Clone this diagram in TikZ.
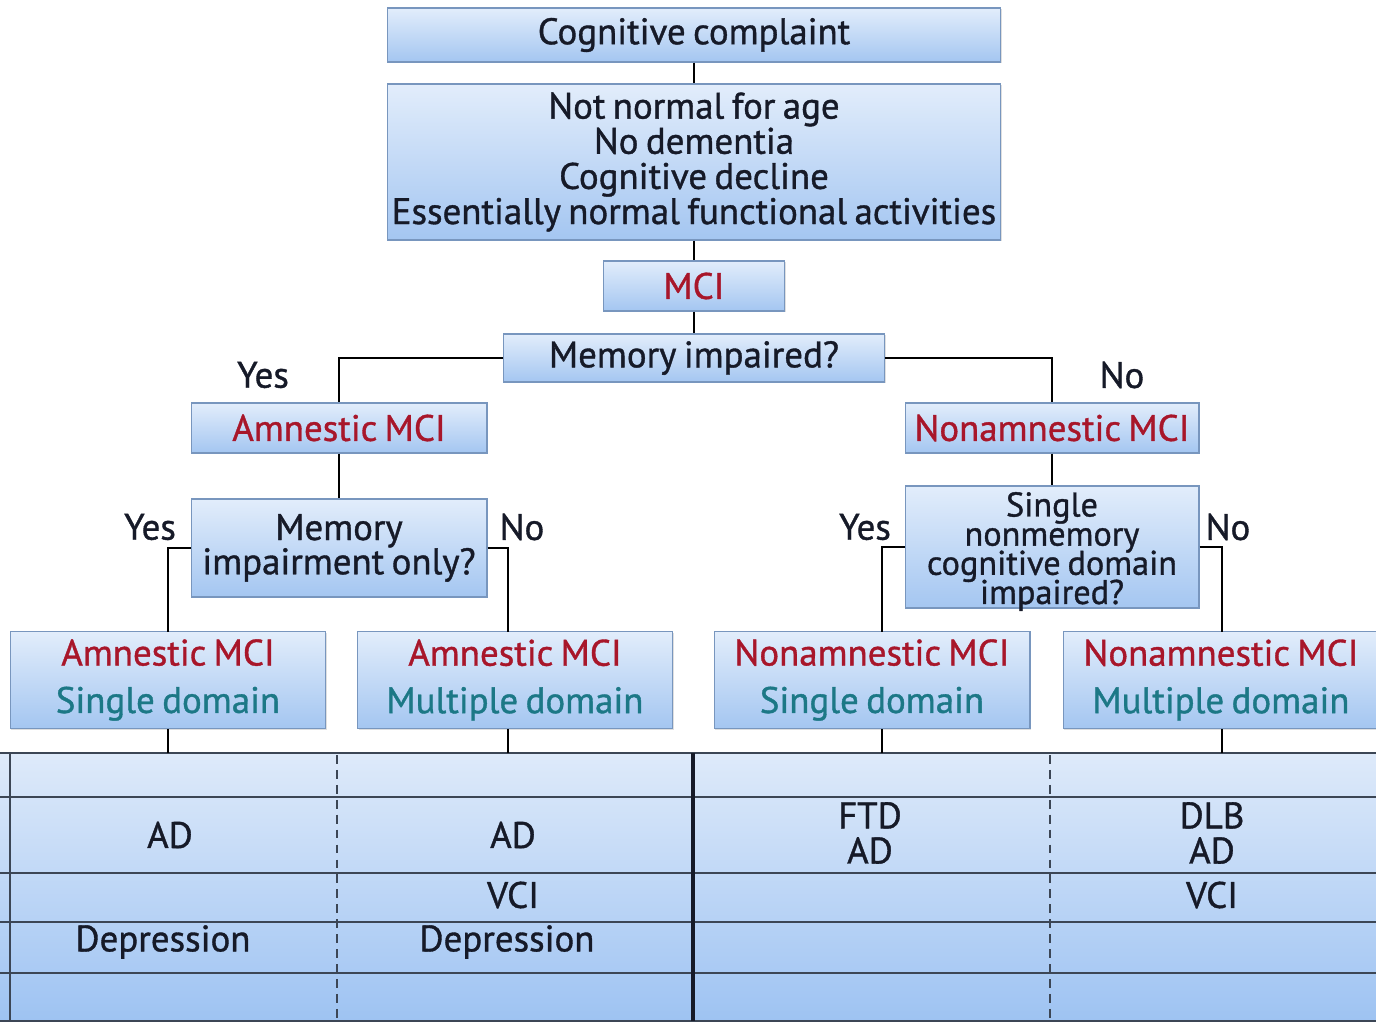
\documentclass[tikz,border=0pt]{standalone}
\usepackage{fontspec}
\setmainfont{PT Sans}[WordSpace=0.75, FakeBold=1]
\usetikzlibrary{positioning, shadows}

\definecolor{boxtop}{RGB}{226,237,251}
\definecolor{boxbot}{RGB}{164,198,241}
\definecolor{boxedge}{RGB}{120,150,190}
\definecolor{tabtop}{RGB}{222,234,250}
\definecolor{tabbot}{RGB}{158,195,242}
\definecolor{ink}{RGB}{22,26,40}
\definecolor{mcired}{RGB}{168,22,42}
\definecolor{domteal}{RGB}{28,120,134}
\definecolor{rulegrey}{RGB}{60,70,85}

\newcommand{\mcifont}{\fontsize{21}{20}\selectfont}

\tikzset{
  box/.style={draw=boxedge, line width=0.6pt, top color=boxtop, bottom color=boxbot,
    align=center, inner sep=0pt, text=ink, font=\mcifont,
    drop shadow={shadow xshift=0.6pt, shadow yshift=-0.8pt, opacity=0.25}},
  link/.style={draw=black, line width=1.4pt},
  answer/.style={text=ink, font=\mcifont},
  cell/.style={text=ink, font=\mcifont, align=center},
  rule/.style={draw=rulegrey, line width=1pt}
}

\begin{document}
\begin{tikzpicture}[x=0.02cm, y=-0.02cm]
\useasboundingbox (0,0) rectangle (1376,1030);

% table at the bottom
\fill[top color=tabtop, bottom color=tabbot] (0,753) rectangle (1376,1021);
\coordinate (tabtop) at (0,753);
\foreach \y in {753,797,873,922,973,1021}
  \draw[rule] (0,\y) -- (1376,\y);
\draw[rule] (10,753) -- (10,1021);
\draw[rule, dashed, dash pattern=on 5pt off 3.5pt, line width=1.2pt] (337,755) -- (337,1019);
\draw[rule, dashed, dash pattern=on 5pt off 3.5pt, line width=1.2pt] (1050,755) -- (1050,1019);
\draw[draw=ink, line width=2pt] (693,753) -- (693,1021);

% decision tree
\node[box, minimum width=12.28cm, minimum height=1.08cm] (cc) at (694,35) {Cognitive complaint};
\node[box, minimum width=12.28cm, minimum height=3.12cm] (crit) at (694,162)
  {Not normal for age\\No dementia\\Cognitive decline\\Essentially normal functional activities};
\node[box, minimum width=3.62cm, minimum height=1cm, text=mcired] (mci) at (694,286) {MCI};
\node[box, minimum width=7.62cm, minimum height=0.96cm] (memq) at (694,358) {Memory impaired?};
\node[box, minimum width=5.92cm, minimum height=1.96cm, font=\fontsize{21}{19.5}\selectfont] (onlyq) at (339,548)
  {Memory\\impairment only?};
\node[box, minimum width=5.92cm, minimum height=1cm, text=mcired] (amci) at (339,428) {Amnestic MCI};
\node[box, minimum width=5.88cm, minimum height=1cm, text=mcired] (namci) at (1052,428) {Nonamnestic MCI};
\node[box, minimum width=5.88cm, text height=2.36cm, text depth=0.08cm,
  font={\fontsize{19.5}{16.6}\selectfont\lineskiplimit=-20pt}] (singleq) at (1052,547)
  {Single\\nonmemory\\cognitive domain\\impaired?};

\node[box, minimum width=6.32cm, minimum height=1.94cm] (b1) at (168,680)
  {\textcolor{mcired}{Amnestic MCI}\\[7pt]\textcolor{domteal}{Single domain}};
\node[box, minimum width=6.3cm, minimum height=1.94cm] (b2) at (515,680)
  {\textcolor{mcired}{Amnestic MCI}\\[7pt]\textcolor{domteal}{Multiple domain}};
\node[box, minimum width=6.32cm, minimum height=1.94cm] (b3) at (872,680)
  {\textcolor{mcired}{Nonamnestic MCI}\\[7pt]\textcolor{domteal}{Single domain}};
\node[box, minimum width=6.32cm, minimum height=1.94cm] (b4) at (1221,680)
  {\textcolor{mcired}{Nonamnestic MCI}\\[7pt]\textcolor{domteal}{Multiple domain}};

\node[answer] (yes1) at (263,375) {Yes};
\node[answer] (no1) at (1122,375) {No};
\node[answer] (yes2) at (150,527) {Yes};
\node[answer] (no2) at (522,527) {No};
\node[answer] (yes3) at (865,527) {Yes};
\node[answer] (no3) at (1228,527) {No};

\coordinate (k1) at (168,632);
\coordinate (k2) at (508,632);
\coordinate (k3) at (882,632);
\coordinate (k4) at (1222,632);

\draw[link] (cc) -- (crit);
\draw[link] (crit) -- (mci);
\draw[link] (mci) -- (memq);
\draw[link] (memq.west) -| (amci.north);
\draw[link] (memq.east) -| (namci.north);
\draw[link] (amci) -- (onlyq);
\draw[link] (namci) -- (singleq);
\draw[link] (onlyq.west) -| (k1);
\draw[link] (onlyq.east) -| (k2);
\draw[link] (singleq.west) -| (k3);
\draw[link] (singleq.east) -| (k4);
\foreach \k/\b in {k1/b1, k2/b2, k3/b3, k4/b4}
  \draw[link] (\k |- \b.south) -- (\k |- tabtop);

% table entries
\node[cell] (ad1) at (170,835) {AD};
\node[cell] (ad2) at (513,835) {AD};
\node[cell] (vci2) at (513,895) {VCI};
\node[cell] (dep1) at (163,942) {Depression};
\node[cell] (dep2) at (507,942) {Depression};
\node[cell] (ftd) at (870,833) {FTD\\AD};
\node[cell] (dlb) at (1212,833) {DLB\\AD};
\node[cell] (vci4) at (1212,895) {VCI};
\end{tikzpicture}
\end{document}
